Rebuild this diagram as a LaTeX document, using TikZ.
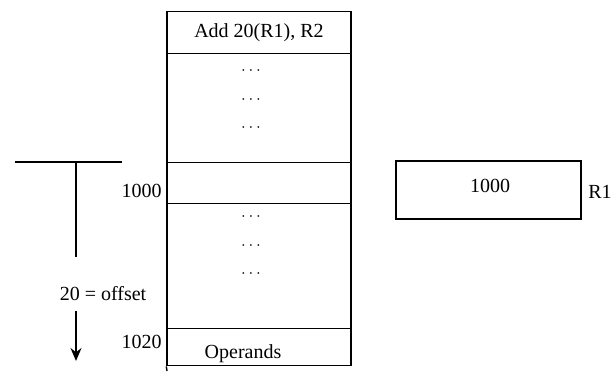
\documentclass[tikz,border=0pt]{standalone}
\usepackage{fontspec}
\setmainfont{Liberation Serif}
\usetikzlibrary{arrows.meta}

\begin{document}
\begin{tikzpicture}[
  x=0.5pt, y=0.5pt,
  >={Stealth[length=6.5pt, width=5.5pt]},
  cell/.style={draw, line width=0.7pt, minimum width=92pt, inner sep=0pt, anchor=north},
  reg/.style={draw, line width=0.7pt, minimum width=92.5pt, minimum height=29pt, inner sep=0pt},
  addr/.style={anchor=east, inner sep=1pt},
  dots/.style={font=\footnotesize, inner sep=0pt},
  bar/.style={line width=0.7pt},
]
  \useasboundingbox (0,0) rectangle (611,-371);

  % memory column
  \node[cell, minimum height=21pt]   (instr) at (259,-11)  {Add 20(R1), R2};
  \node[cell, minimum height=54.5pt] (upper) at (259,-53)  {};
  \node[cell, minimum height=20.5pt] (loc)   at (259,-162) {};
  \node[cell, minimum height=62.5pt] (lower) at (259,-203) {};
  \node[cell, minimum height=18.5pt] (opnd)  at (259,-328) {};
  \coordinate (colend) at (167,-371);
  \draw[bar] (opnd.south west) -- (colend);
  \node[inner sep=0pt] (optxt) at (243,-354) {Operands};

  \foreach \y [count=\i] in {71,100,128} \node[dots] (du\i) at (251,-\y) {$\cdots$};
  \foreach \y [count=\i] in {217,246,274} \node[dots] (dl\i) at (251,-\y) {$\cdots$};

  \node[addr] (a1000) at (164,-191) {1000};
  \node[addr] (a1020) at (164,-342) {1020};

  % register R1
  \node[reg] (r1) at (488.5,-190) {};
  \node (r1val) at (490,-186) {1000};
  \node[anchor=west, inner sep=0pt] (r1lbl) at (588,-192) {R1};

  % offset marker
  \coordinate (tl) at (15,-162);
  \coordinate (tr) at (122,-162);
  \coordinate (tm) at (76,-162);
  \coordinate (tb) at (76,-257);
  \coordinate (tend) at (76,-361);
  \draw[bar] (tl) -- (tr);
  \draw[bar] (tm) -- (tb);
  \node (off) at (103,-294) {20 = offset};
  \draw[bar, ->] (off.south -| tm) ++(0,-3) -- (tend);
\end{tikzpicture}
\end{document}
